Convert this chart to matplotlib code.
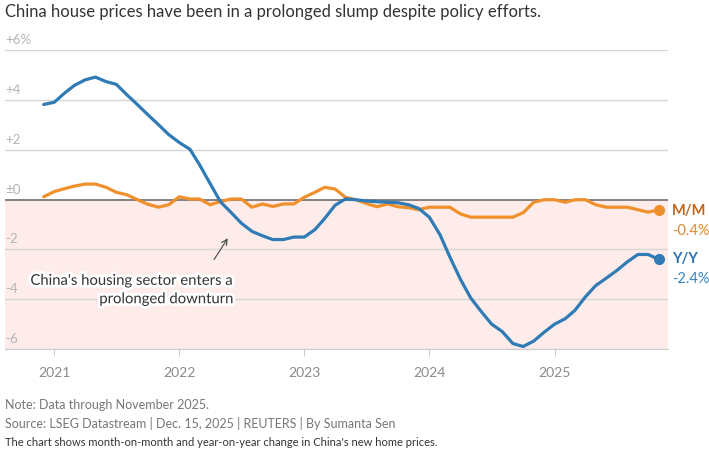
import matplotlib
matplotlib.use("Agg")
import matplotlib.pyplot as plt
import matplotlib.patheffects as pe
import pandas as pd

# monthly data, Dec 2020 .. Nov 2025
months = pd.date_range("2020-12-01", periods=60, freq="MS")

yoy = [3.83,
       3.92, 4.30, 4.60, 4.82, 4.93, 4.75, 4.64, 4.22, 3.82, 3.42, 3.02, 2.62,
       2.30, 2.03, 1.41, 0.65, -0.08, -0.51, -0.94, -1.27, -1.45, -1.60, -1.60, -1.50,
       -1.50, -1.20, -0.76, -0.22, 0.03, 0.00, -0.05, -0.08, -0.10, -0.12, -0.20, -0.35,
       -0.70, -1.40, -2.30, -3.20, -3.95, -4.50, -5.00, -5.30, -5.78, -5.90, -5.68, -5.33,
       -5.00, -4.78, -4.45, -3.90, -3.45, -3.15, -2.85, -2.50, -2.20, -2.20, -2.40]

mom = [0.12,
       0.33, 0.45, 0.55, 0.63, 0.63, 0.50, 0.30, 0.20, 0.00, -0.18, -0.30, -0.20,
       0.12, 0.03, 0.03, -0.20, -0.07, 0.03, 0.03, -0.30, -0.17, -0.27, -0.17, -0.17,
       0.10, 0.30, 0.50, 0.43, 0.10, 0.00, -0.15, -0.28, -0.17, -0.28, -0.32, -0.40,
       -0.30, -0.30, -0.30, -0.57, -0.70, -0.70, -0.70, -0.70, -0.70, -0.52, -0.10, 0.00,
       0.00, -0.10, 0.00, 0.00, -0.20, -0.30, -0.30, -0.30, -0.40, -0.50, -0.40]

y_ticks = [6, 4, 2, 0, -2, -4, -6]
y_labels = ["+6%", "+4", "+2", "±0", "-2", "-4", "-6"]
x_ticks = pd.to_datetime(["2021-01-01", "2022-01-01", "2023-01-01", "2024-01-01", "2025-01-01"])
x_labels = ["2021", "2022", "2023", "2024", "2025"]

BLUE = "#2f7bb6"
ORANGE = "#f0902c"
FONT = "Lato"

plt.rcParams["font.family"] = [FONT, "DejaVu Sans"]

fig = plt.figure(figsize=(7.09, 4.58), dpi=100)
ax = fig.add_axes([5 / 709, 1 - 349 / 458, 663 / 709, 299 / 458])

ax.set_xlim(pd.Timestamp("2020-08-10"), pd.Timestamp("2025-11-28"))
ax.set_ylim(-6.0, 6.02)

# shaded negative region
ax.axhspan(-6.0, 0, color="#fdecea", zorder=0, lw=0)

for v in y_ticks:
    if v == 0:
        ax.axhline(v, color="#777777", lw=1.3, zorder=1)
    else:
        ax.axhline(v, color="#d6d6d6", lw=1.0, zorder=1)

for v, lab in zip(y_ticks, y_labels):
    ax.text(0, v + 0.17, lab, transform=ax.get_yaxis_transform(), ha="left", va="bottom",
            fontsize=9.5, color="#b3b3b3")

ax.plot(months, mom, color=ORANGE, lw=2.3, solid_joinstyle="round", solid_capstyle="round", zorder=3)
ax.plot(months, yoy, color=BLUE, lw=2.3, solid_joinstyle="round", solid_capstyle="round", zorder=4)
ax.plot(months[-1], mom[-1], "o", color=ORANGE, ms=7, zorder=5)
ax.plot(months[-1], yoy[-1], "o", color=BLUE, ms=7, zorder=5)

# end labels
ax.annotate("M/M", xy=(1, mom[-1]), xycoords=("axes fraction", "data"), xytext=(3, -1),
            textcoords="offset points", ha="left", va="center", fontsize=10.5,
            fontweight="bold", color="#c0661c", annotation_clip=False)
ax.annotate("-0.4%", xy=(1, mom[-1]), xycoords=("axes fraction", "data"), xytext=(3, -15),
            textcoords="offset points", ha="left", va="center", fontsize=10.5,
            color="#e08a2e", annotation_clip=False)
ax.annotate("Y/Y", xy=(1, yoy[-1]), xycoords=("axes fraction", "data"), xytext=(3, 0),
            textcoords="offset points", ha="left", va="center", fontsize=10.5,
            fontweight="bold", color="#2a72b0", annotation_clip=False)
ax.annotate("-2.4%", xy=(1, yoy[-1]), xycoords=("axes fraction", "data"), xytext=(3, -14),
            textcoords="offset points", ha="left", va="center", fontsize=10.5,
            color="#3a86c2", annotation_clip=False)

# callout
ax.annotate("", xy=(pd.Timestamp("2022-05-27"), -1.45), xytext=(pd.Timestamp("2022-04-08"), -2.5),
            arrowprops=dict(arrowstyle="->", color="#555555", lw=0.9), zorder=6)
ax.text(pd.Timestamp("2022-06-08"), -3.63, "China's housing sector enters a\nprolonged downturn",
        ha="right", va="center", ma="right", fontsize=10.7, color="#333333", linespacing=1.4,
        zorder=6, path_effects=[pe.withStroke(linewidth=4, foreground="white")])

ax.set_xticks(x_ticks)
ax.set_xticklabels(x_labels, fontsize=10, color="#8a8a8a")
ax.tick_params(axis="x", length=5, color="#cccccc", pad=8)
ax.set_yticks([])
for s in ["top", "left", "right"]:
    ax.spines[s].set_visible(False)
ax.spines["bottom"].set_color("#cccccc")

fig.text(5 / 709, 1 - 12 / 458, "China house prices have been in a prolonged slump despite policy efforts.",
         ha="left", va="center", fontsize=12, color="#333333")
fig.text(5 / 709, 1 - 405 / 458, "Note: Data through November 2025.",
         ha="left", va="center", fontsize=9, color="#777777")
fig.text(5 / 709, 1 - 424 / 458, "Source: LSEG Datastream | Dec. 15, 2025 | REUTERS | By Sumanta Sen",
         ha="left", va="center", fontsize=9, color="#777777")
fig.text(5 / 709, 1 - 443 / 458, "The chart shows month-on-month and year-on-year change in China's new home prices.",
         ha="left", va="center", fontsize=8, color="#333333")

fig.savefig("out.png", dpi=100, facecolor="white")
